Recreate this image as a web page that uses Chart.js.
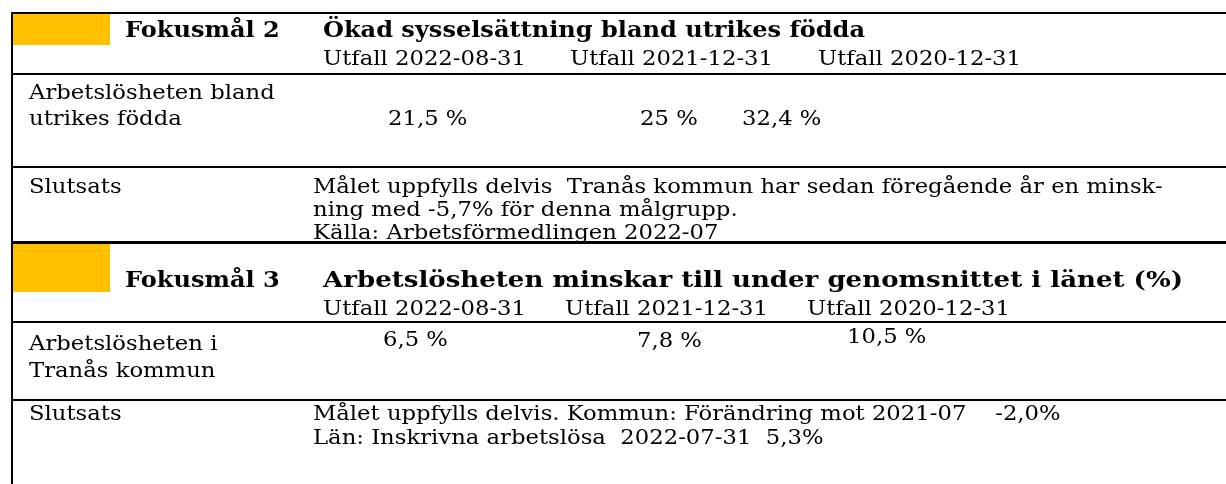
<!DOCTYPE html>
<html><head><meta charset="utf-8">
<script src="https://cdn.jsdelivr.net/npm/chart.js@4.4.0/dist/chart.umd.min.js"></script>
<style>html,body{margin:0;padding:0;background:#fff;overflow:hidden}canvas{display:block}</style>
</head><body>
<div style="width:1226px;height:484px"><canvas id="c" width="1226" height="484"></canvas></div>
<script>
// ---- data ----
const focusLabels = ['Fokusmål 2', 'Fokusmål 3'];
const goalTitles = ['Ökad sysselsättning bland utrikes födda', 'Arbetslösheten minskar till under genomsnittet i länet (%)'];
const periods = ['Utfall 2022-08-31', 'Utfall 2021-12-31', 'Utfall 2020-12-31'];
const indicator2 = ['Arbetslösheten bland', 'utrikes födda'];
const indicator3 = ['Arbetslösheten i', 'Tranås kommun'];
const values2 = [21.5, 25, 32.4];
const values3 = [6.5, 7.8, 10.5];
const conclusionLabel = 'Slutsats';
const conclusion2 = ['Målet uppfylls delvis  Tranås kommun har sedan föregående år en minsk-', 'ning med -5,7% för denna målgrupp.', 'Källa: Arbetsförmedlingen 2022-07'];
const conclusion3 = ['Målet uppfylls delvis. Kommun: Förändring mot 2021-07    -2,0%', 'Län: Inskrivna arbetslösa  2022-07-31  5,3%'];

// ---- layout (pixels) ----
const L = {
  left: 12, right: 1226,
  yellowW: [13, 110],
  sec: [
    { yellow: [14, 45], titleY: 37, titleW: 542, headY: 65, headX: [323, 570, 818], line1: 74,
      labY: [99, 125], valX: [388, 640, 742], valY: [125, 125, 125], line2: 167,
      conY: [193, 216, 239], sep: 242.5, sepW: 3 },
    { yellow: [244, 292], titleY: 287, titleW: 860, headY: 315, headX: [323, 565, 807], line1: 322,
      labY: [350, 377], valX: [383, 637, 847], valY: [346, 347, 343], line2: 400,
      conY: [420, 444] }
  ],
  focusX: 125, titleX: 323, labelX: 29, conX: 313
};

const fmt = v => String(v).replace('.', ',') + ' %';
const REG = '21px "DejaVu Serif"';
const BOLD = 'bold 22px "DejaVu Serif"';

const tablePlugin = {
  id: 'table',
  afterDraw(chart) {
    const ctx = chart.ctx;
    ctx.save();
    ctx.fillStyle = '#fff';
    ctx.fillRect(0, 0, chart.width, chart.height);
    ctx.font = REG;
    const sx = 203 / ctx.measureText(periods[0]).width;
    ctx.font = BOLD;
    const sxb = 542 / ctx.measureText(goalTitles[0]).width;
    function txt(t, x, y, bold, fitW) {
      ctx.save();
      ctx.font = bold ? BOLD : REG;
      ctx.fillStyle = '#000';
      ctx.textBaseline = 'alphabetic';
      ctx.translate(x, y);
      let s = bold ? sxb : sx;
      if (fitW) s = fitW / ctx.measureText(t).width;
      ctx.scale(s, 1);
      ctx.fillText(t, 0, 0);
      ctx.restore();
    }
    function hline(y, w) {
      ctx.fillStyle = '#000';
      ctx.fillRect(L.left - 1, y - w / 2, L.right - L.left + 1, w);
    }
    const ds = chart.data.datasets;
    const indicators = [indicator2, indicator3];
    const conclusions = [conclusion2, conclusion3];
    L.sec.forEach((s, i) => {
      ctx.fillStyle = '#FFC000';
      ctx.fillRect(L.yellowW[0], s.yellow[0], L.yellowW[1] - L.yellowW[0], s.yellow[1] - s.yellow[0]);
      txt(focusLabels[i], L.focusX, s.titleY, true);
      txt(goalTitles[i], L.titleX, s.titleY, true, s.titleW);
      chart.data.labels.forEach((p, j) => txt(p, s.headX[j], s.headY, false));
      hline(s.line1, 2);
      indicators[i].forEach((t, k) => txt(t, L.labelX, s.labY[k], false));
      ds[i].data.forEach((v, j) => txt(fmt(v), s.valX[j], s.valY[j], false));
      hline(s.line2, 2);
      txt(conclusionLabel, L.labelX, s.conY[0], false);
      conclusions[i].forEach((t, k) => txt(t, L.conX, s.conY[k], false));
      if (s.sep) hline(s.sep, s.sepW);
    });
    hline(13, 2);
    ctx.fillStyle = '#000';
    ctx.fillRect(L.left - 1, 12, 2, chart.height - 12);
    ctx.restore();
  }
};

new Chart(document.getElementById('c'), {
  type: 'bar',
  data: {
    labels: periods,
    datasets: [
      { label: focusLabels[0], data: values2, hidden: true },
      { label: focusLabels[1], data: values3, hidden: true }
    ]
  },
  options: {
    responsive: false, animation: false, devicePixelRatio: 1,
    layout: { padding: 0 },
    plugins: { legend: { display: false }, tooltip: { enabled: false }, title: { display: false } },
    scales: { x: { display: false }, y: { display: false } }
  },
  plugins: [tablePlugin]
});
</script>
</body></html>
